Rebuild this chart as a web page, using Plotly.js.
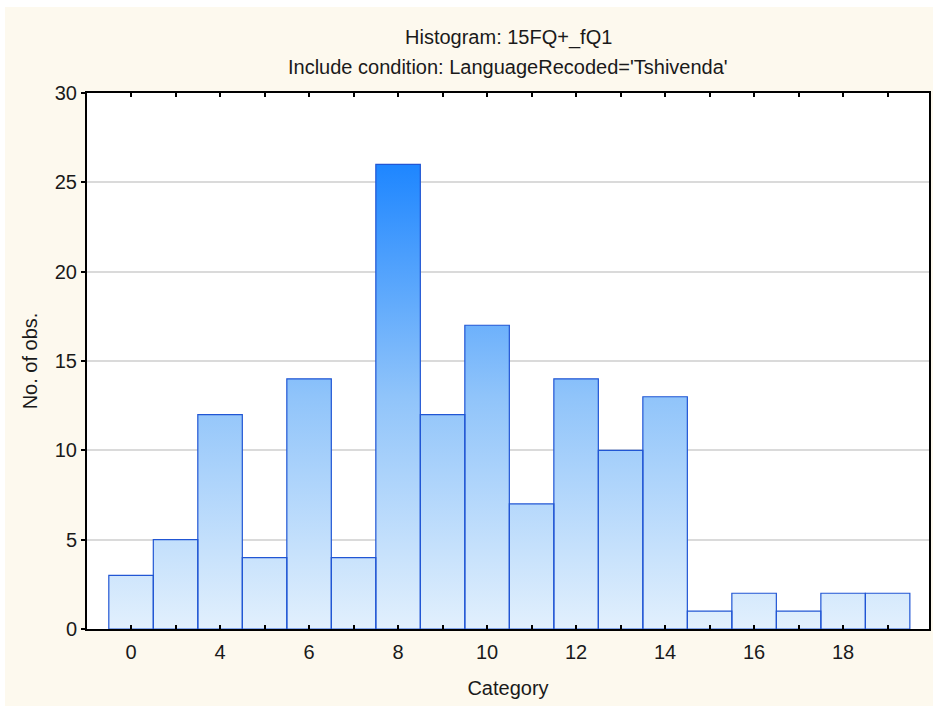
<!DOCTYPE html>
<html>
<head>
<meta charset="utf-8">
<script src="https://cdn.plot.ly/plotly-3.0.1.min.js"></script>
<style>
html,body{margin:0;padding:0;background:#ffffff;}
#chart{position:absolute;left:5px;top:7px;width:928px;height:699px;}
</style>
</head>
<body>
<div id="chart"></div>
<script>
// Data
const categories = ['0','2','4','5','6','7','8','9','10','11','12','13','14','15','16','17','18','19'];
const counts     = [3, 5, 12, 4, 14, 4, 26, 12, 17, 7, 14, 10, 13, 1, 2, 1, 2, 2];
const labeledTicks = ['0','4','6','8','10','12','14','16','18'];
const yTicks = [0, 5, 10, 15, 20, 25, 30];

const idx = categories.map((c, i) => i);
const tickText = categories.map(c => labeledTicks.includes(c) ? c : '');

// Build bar outlines (as closed paths) from the data so they can carry a vertical gradient
const px = [], py = [];
counts.forEach((v, i) => {
  px.push(i - 0.5, i - 0.5, i + 0.5, i + 0.5, i - 0.5, null);
  py.push(0, v, v, 0, 0, null);
});

const traces = [
  {
    type: 'bar', x: idx, y: counts, width: 1,
    marker: {color: 'rgba(0,0,0,0)', line: {width: 0}},
    hoverinfo: 'x+y', showlegend: false
  },
  {
    type: 'scatter', mode: 'lines', x: px, y: py,
    fill: 'toself',
    fillgradient: {
      type: 'vertical', start: 0, stop: 26,
      colorscale: [[0, '#E2F0FD'], [0.5, '#90C4FA'], [1, '#1E86FF']]
    },
    line: {color: '#2156D4', width: 1.2},
    hoverinfo: 'skip', showlegend: false
  }
];

const layout = {
  width: 928, height: 699,
  paper_bgcolor: '#FDF9EE', plot_bgcolor: '#FFFFFF',
  margin: {l: 82, r: 4, t: 86, b: 77},
  font: {family: 'Liberation Sans, Arial, sans-serif', size: 20, color: '#1a1a1a'},
  bargap: 0,
  showlegend: false,
  xaxis: {
    range: [-0.99, 17.93],
    tickmode: 'array', tickvals: idx, ticktext: tickText,
    ticks: 'inside', ticklen: 4, tickwidth: 2, tickcolor: '#000',
    ticklabelstandoff: 4,
    showline: true, linecolor: '#000', linewidth: 2, mirror: 'ticks',
    showgrid: false, zeroline: false,
    title: {text: 'Category', font: {size: 20}, standoff: 19}
  },
  yaxis: {
    range: [0, 30],
    tickmode: 'array', tickvals: yTicks,
    ticks: 'outside', ticklen: 4, tickwidth: 2, tickcolor: '#000',
    showline: true, linecolor: '#000', linewidth: 2, mirror: true,
    showgrid: true, gridcolor: '#DADADA', gridwidth: 2,
    zeroline: false,
    title: {text: 'No. of obs.', font: {size: 20}, standoff: 12}
  },
  annotations: [
    {text: 'Histogram: 15FQ+_fQ1', xref: 'paper', yref: 'paper', x: 0.5, y: 1, yshift: 56,
     showarrow: false, xanchor: 'center', yanchor: 'middle', font: {size: 20}},
    {text: "Include condition: LanguageRecoded='Tshivenda'", xref: 'paper', yref: 'paper', x: 0.5, y: 1, yshift: 26,
     showarrow: false, xanchor: 'center', yanchor: 'middle', font: {size: 20}}
  ]
};

Plotly.newPlot('chart', traces, layout, {displayModeBar: false, staticPlot: true});
</script>
</body>
</html>
